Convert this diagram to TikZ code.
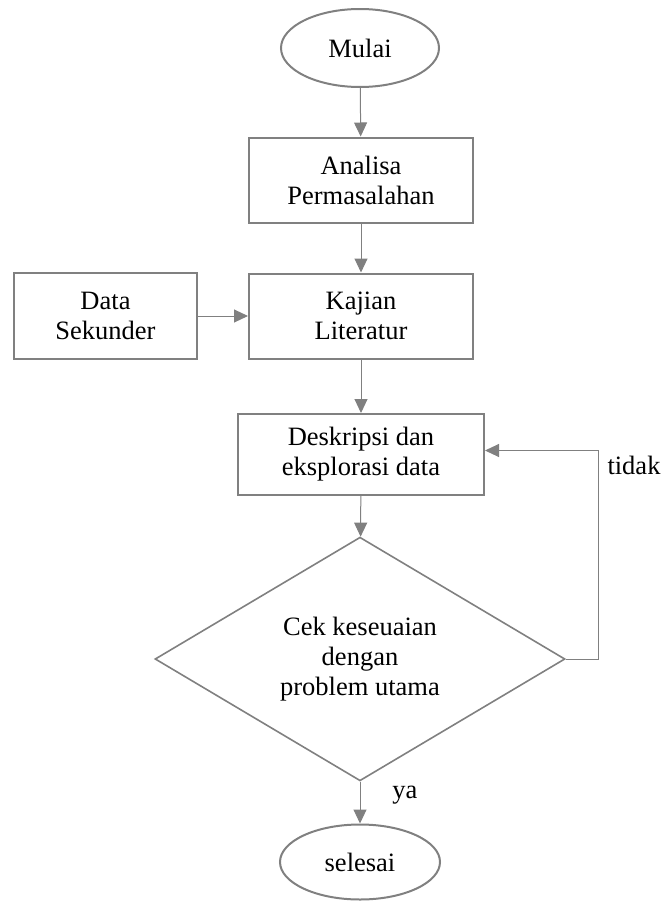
\documentclass[tikz,border=0pt]{standalone}
\usepackage{fontspec}
\setmainfont{Liberation Serif}
\usepackage{tikz}
\usetikzlibrary{shapes.geometric,arrows.meta}
\definecolor{linegray}{RGB}{128,128,128}

\begin{document}
\begin{tikzpicture}[x=1pt,y=-1pt,
  font=\fontsize{26.5}{30}\selectfont,
  box/.style={draw=linegray,line width=2pt,rectangle,align=center,inner sep=0pt},
  terminal/.style={draw=linegray,line width=2pt,ellipse,align=center,inner sep=0pt},
  decision/.style={draw=linegray,line width=1.6pt,diamond,align=center,inner sep=0pt},
  arr/.style={draw=linegray,line width=1pt,-{Triangle[length=14pt,width=13pt]}}]
\useasboundingbox (0,0) rectangle (662,902);
% Nodes
\node[terminal,minimum width=158pt,minimum height=78pt] (mulai) at (360,48) {Mulai};
\node[box,minimum width=224pt,minimum height=85pt] (analisa) at (361,180) {Analisa\\Permasalahan};
\node[box,minimum width=224pt,minimum height=85pt] (kajian) at (361,316) {Kajian\\Literatur};
\node[box,minimum width=183pt,minimum height=86pt] (data) at (105.5,316) {Data\\Sekunder};
\node[box,minimum width=246pt,minimum height=81pt] (deskripsi) at (361,454.5) {Deskripsi dan\\eksplorasi data};
\node[decision,minimum width=410pt,minimum height=228pt] (cek) at (360,659) {Cek keseuaian\\dengan\\problem utama};
\node[terminal,minimum width=160pt,minimum height=75pt] (selesai) at (360,862) {selesai};
\node (tidak) at (634,465) {tidak};
\node (ya) at (405,795) {ya};
% Connectors
\draw[arr] (mulai) -- (analisa);
\draw[arr] (analisa) -- (kajian);
\draw[arr] (data) -- (kajian);
\draw[arr] (kajian) -- (deskripsi);
\draw[arr] (deskripsi) -- (cek);
\draw[arr] (cek) -- (selesai);
\draw[arr] (cek.east) -- ++(33,0) |- ([yshift=4pt]deskripsi.east);
\end{tikzpicture}
\end{document}
